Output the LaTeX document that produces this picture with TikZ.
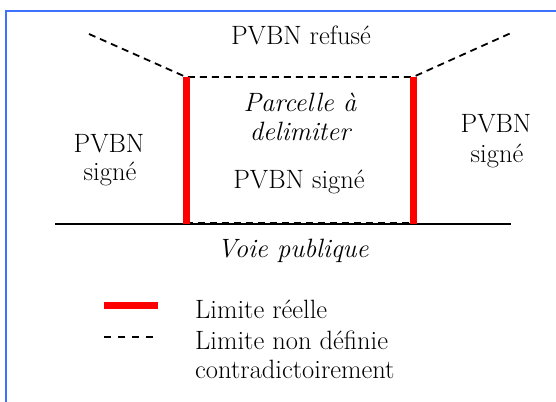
\documentclass[tikz,border=0pt]{standalone}
\usepackage{fontspec}
\definecolor{framblue}{RGB}{64,112,255}
\definecolor{limred}{RGB}{255,0,0}
\begin{document}
\begin{tikzpicture}[x=1pt,y=-1pt,
  txt/.style={inner sep=0pt,anchor=base,font=\fontsize{26.5}{30}\selectfont},
  ltxt/.style={inner sep=0pt,anchor=base west,font=\fontsize{26.5}{30}\selectfont},
  itxt/.style={txt,font=\fontsize{26.5}{30}\selectfont\itshape},
  reelle/.style={draw=limred,line width=7pt},
  nondef/.style={draw=black,line width=1.8pt,dash pattern=on 7pt off 5pt},
  voie/.style={draw=black,line width=1.8pt}]
\useasboundingbox (0,0) rectangle (556,401);
\fill[white] (0,0) rectangle (556,401);
\draw[framblue,line width=2.5pt] (6,402) -- (6,11) -- (557,11);
\coordinate (TL) at (186,77);
\coordinate (TR) at (413,77);
\coordinate (BL) at (186,224);
\coordinate (BR) at (413,224);
\coordinate (OL) at (89,34);
\coordinate (OR) at (511,33);
\coordinate (VL) at (55,224);
\coordinate (VR) at (511,224);
\draw[voie] (VL) -- (VR);
\draw[nondef] ([yshift=1pt]BL) -- ([yshift=1pt]BR);
\draw[nondef] (OL) -- (TL) -- (TR) -- (OR);
\draw[reelle] (TL) -- (BL);
\draw[reelle] (TR) -- (BR);
\node[txt] (refuse) at (301,45) {PVBN refusé};
\node[itxt] (parc1) at (300,112) {Parcelle à};
\node[itxt] (parc2) at (300,140) {delimiter};
\node[txt] (centre) at (299,188) {PVBN signé};
\node[txt] (gauche1) at (109,152) {PVBN};
\node[txt] (gauche2) at (110,180) {signé};
\node[txt] (droite1) at (496,132) {PVBN};
\node[txt] (droite2) at (497,162) {signé};
\node[itxt] (voiepub) at (293,257) {Voie publique};
\coordinate (LR1) at (104,305.5);
\coordinate (LR2) at (158,305.5);
\coordinate (LD1) at (104,337);
\coordinate (LD2) at (155,337);
\draw[reelle] (LR1) -- (LR2);
\draw[draw=black,line width=1.8pt,dash pattern=on 7pt off 7pt] (LD1) -- (LD2);
\node[ltxt] (leg1) at (195,318) {Limite réelle};
\node[ltxt] (leg2) at (195,349) {Limite non définie};
\node[ltxt] (leg3) at (195,378) {contradictoirement};
\end{tikzpicture}
\end{document}
